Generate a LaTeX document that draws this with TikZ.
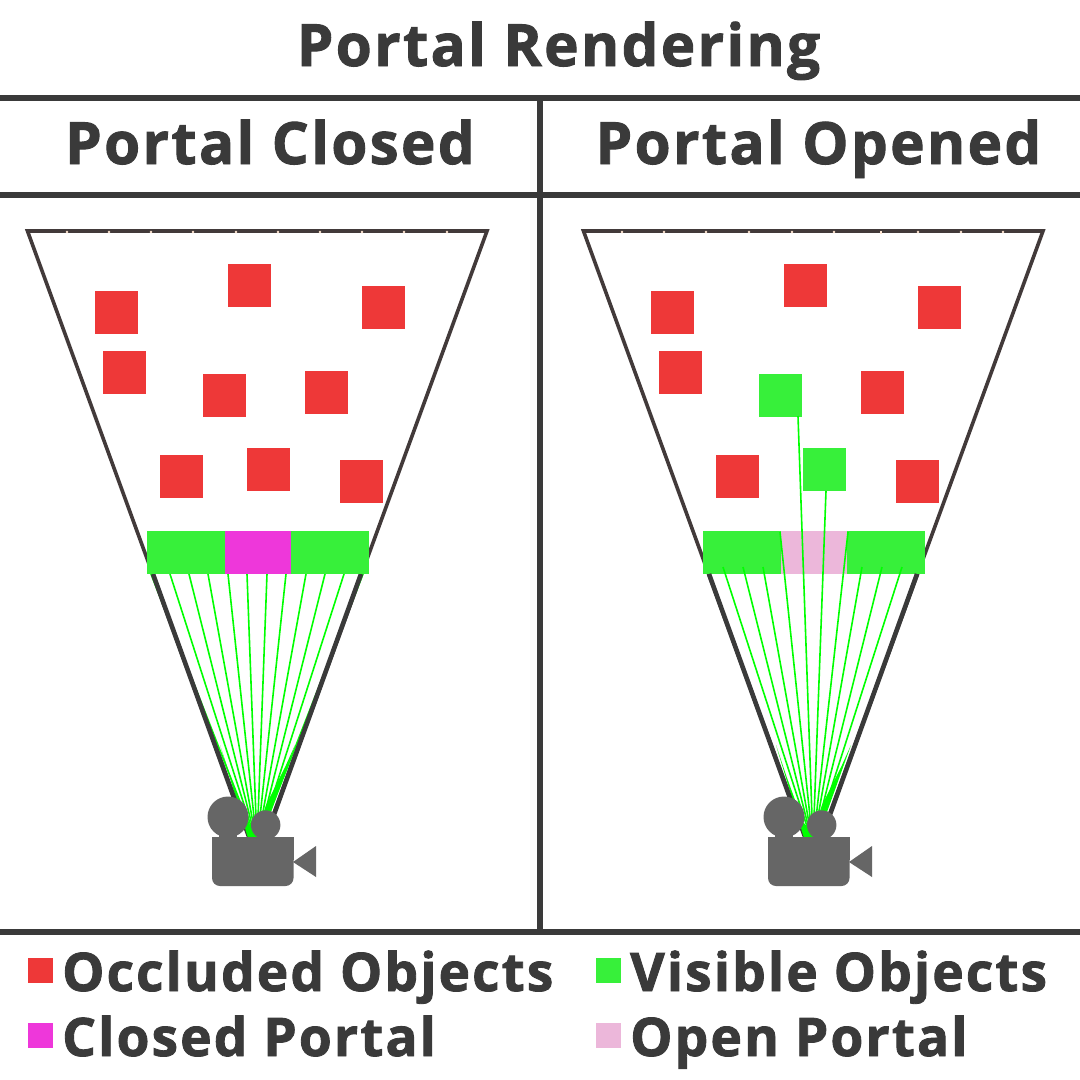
\documentclass[tikz,border=0pt]{standalone}
\usepackage{fontspec}
\setmainfont{Open Sans}[BoldFont={Open Sans Bold},BoldFeatures={FakeBold=1.6},LetterSpace=4]
\definecolor{ink}{HTML}{3A3A3A}
\definecolor{frust}{HTML}{423A3A}
\definecolor{occl}{HTML}{EE3838}
\definecolor{vis}{HTML}{37F03A}
\definecolor{closedp}{HTML}{EE37DA}
\definecolor{openp}{HTML}{ECB7DA}
\definecolor{ray}{HTML}{00FF00}
\definecolor{cam}{HTML}{666666}
\definecolor{notch}{HTML}{FFE6D2}
\tikzset{
 rule/.style={draw=ink,line width=6pt},
 frustum/.style={draw=frust,line width=3.6pt,line join=miter},
 lowerline/.style={draw=ink,line width=4.6pt},
 raylin/.style={draw=ray,line width=1.6pt},
 headtxt/.style={font=\bfseries\fontsize{58.3}{58.3}\selectfont,text=ink,inner sep=0pt},
 legtxt/.style={font=\bfseries\fontsize{53.2}{53.2}\selectfont,text=ink,inner sep=0pt,anchor=base west},
}
\newcommand{\sq}[3]{\fill[#1] (#2,#3) rectangle ++(42.5,42.5);}
\newcommand{\camera}{%
  \fill[cam] (784,817) circle (20.5);
  \fill[cam] (821.7,825) circle (14.7);
  \fill[cam] (775,830) rectangle (793,840);
  \fill[cam] (814,830) rectangle (830,840);
  \fill[cam,rounded corners=8] (768,850) -- (768,886) -- (849.5,886) -- (849.5,850) -- cycle;
  \fill[cam] (768,837) rectangle (849.5,860);
  \fill[cam] (849,862) -- (872,846) -- (872,877) -- cycle;
}
\newcommand{\wedges}{%
  \fill[ray] (776,745) -- (804,838) -- (817,838) -- (803,822) -- (786,775) -- cycle;
  \fill[ray] (851,745) -- (827,812) -- (815,826) -- (822,805) -- (842,765) -- cycle;
}
\begin{document}
\begin{tikzpicture}[x=1pt,y=-1pt]
\useasboundingbox (0,0) rectangle (1080,1080);
\fill[white] (0,0) rectangle (1080,1080);
% left panel
\draw[frustum] (27.5,231) -- (487,231) -- (257,860) -- cycle;
\foreach \x in {67,109,151,193,236,278,320,362,404,447}
  \fill[notch] (\x,232) circle (1.3);
\foreach \a/\b in {95/291,228/264,362/286,103/351,203/374,305/371,160/455,247/448,340/460} {\sq{occl}{\a}{\b}}
\draw[raylin] (151,574) -- (257,845);
\draw[raylin] (363,574) -- (257,845);
\begin{scope}[xshift=-556pt]
\wedges
\end{scope}
\draw[lowerline] (153,574) -- (242,820);
\draw[lowerline] (361,574) -- (272,820);
\foreach \x in {170,189,208,228,247,267,286,306,325,344}
  \draw[raylin] (\x,574) -- (257,845);
\fill[vis] (147,531) rectangle (225,574);
\fill[closedp] (225,531) rectangle (291,574);
\fill[vis] (291,531) rectangle (369,574);
\begin{scope}[xshift=-556pt]
\camera
\end{scope}
% right panel
\draw[frustum] (583.5,231) -- (1043,231) -- (813,860) -- cycle;
\foreach \x in {622,664,706,749,792,834,918,961,1003}
  \fill[notch] (\x,232) circle (1.3);
\fill[notch] (880,231) rectangle (881.5,234);
\foreach \a/\b in {651/291,784/264,918/286,659/351,861/371,716/455,896/460} {\sq{occl}{\a}{\b}}
\sq{vis}{759}{374}
\sq{vis}{803}{448}
\fill[vis] (703,531) rectangle (781,574);
\fill[openp] (781,531) rectangle (847,574);
\fill[vis] (847,531) rectangle (925,574);
\wedges
\draw[lowerline] (709,574) -- (798,820);
\draw[lowerline] (917,574) -- (828,820);
\foreach \x/\y in {723/567,743/567,763/567,780/532,798/416,826/491,848/532,862/567,882/567,902/567}
  \draw[raylin] (\x,\y) -- (813,845);
\camera
% frame
\draw[rule] (0,98) -- (1080,98);
\draw[rule] (0,195) -- (1080,195);
\draw[rule] (0,932) -- (1080,932);
\draw[rule] (540,98) -- (540,932);
% headings
\node[headtxt,anchor=base] (title) at (558.5,66) {Portal Rendering};
\node[headtxt,anchor=base] (closed) at (270,164) {Portal Closed};
\node[headtxt,anchor=base] (opened) at (818.5,164) {Portal Opened};
% legend
\fill[occl] (28,958) rectangle (53,983);
\fill[vis] (596,958) rectangle (621,983);
\fill[closedp] (28,1023) rectangle (53,1048);
\fill[openp] (596,1023) rectangle (621,1048);
\node[legtxt] (l1) at (62,991) {Occluded Objects};
\node[legtxt] (l2) at (630,991) {Visible Objects};
\node[legtxt] (l3) at (62,1056) {Closed Portal};
\node[legtxt] (l4) at (630,1056) {Open Portal};
\end{tikzpicture}
\end{document}
